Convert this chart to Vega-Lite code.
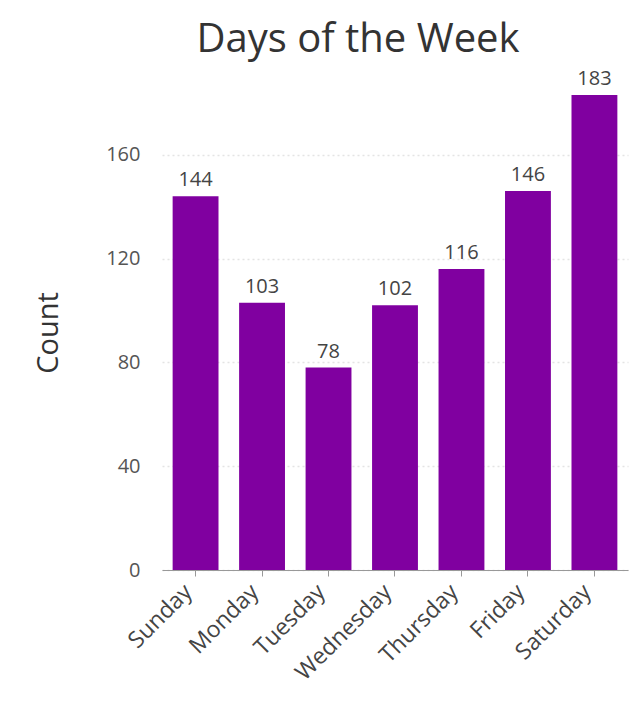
{
  "$schema": "https://vega.github.io/schema/vega-lite/v6.json",
  "autosize": {"type": "none"},
  "padding": {"left": 162, "top": 95, "right": 4, "bottom": 140},
  "width": 466,
  "height": 475,
  "background": "white",
  "title": {
    "text": "Days of the Week",
    "font": "Open Sans",
    "fontSize": 40,
    "fontWeight": "normal",
    "color": "#333333",
    "anchor": "middle",
    "dx": -37,
    "offset": 9
  },
  "data": {
    "values": [
      {"day": "Sunday", "count": 144},
      {"day": "Monday", "count": 103},
      {"day": "Tuesday", "count": 78},
      {"day": "Wednesday", "count": 102},
      {"day": "Thursday", "count": 116},
      {"day": "Friday", "count": 146},
      {"day": "Saturday", "count": 183}
    ]
  },
  "encoding": {
    "x": {
      "field": "day",
      "type": "nominal",
      "sort": null,
      "scale": {"paddingInner": 0.31, "paddingOuter": 0.16},
      "axis": {
        "title": null,
        "labelAngle": -45,
        "labelAlign": "right",
        "labelBaseline": "middle",
        "labelFont": "Open Sans",
        "labelFontSize": 23,
        "labelColor": "#444444",
        "domainColor": "#999999",
        "tickColor": "#999999",
        "tickSize": 6,
        "labelPadding": 12,
        "labelOffset": -7
      }
    },
    "y": {
      "field": "count",
      "type": "quantitative",
      "scale": {"domain": [0, 183], "nice": false},
      "axis": {
        "title": "Count",
        "titleFont": "Open Sans",
        "titleFontSize": 29,
        "titleFontWeight": "normal",
        "titleColor": "#333333",
        "titlePadding": 42,
        "values": [0, 40, 80, 120, 160],
        "labelFont": "Open Sans",
        "labelFontSize": 20,
        "labelColor": "#555555",
        "labelPadding": 22,
        "domain": false,
        "ticks": false,
        "gridColor": "#e4e4e4",
        "gridDash": [2, 3],
        "gridWidth": 1.5
      }
    }
  },
  "layer": [
    {"mark": {"type": "bar", "color": "#8000a0"}},
    {
      "mark": {
        "type": "text",
        "baseline": "bottom",
        "dy": -6,
        "font": "Open Sans",
        "fontSize": 20,
        "color": "#444444"
      },
      "encoding": {"text": {"field": "count", "type": "quantitative"}}
    }
  ],
  "config": {"view": {"stroke": null}}
}
